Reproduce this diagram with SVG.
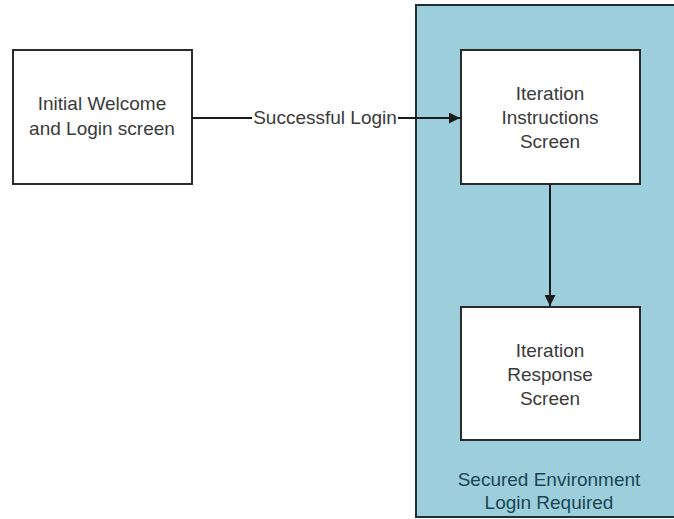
<svg xmlns="http://www.w3.org/2000/svg" width="674" height="519" viewBox="0 0 674 519">
  <defs>
    <marker id="arrow" viewBox="0 0 10 10" refX="10" refY="5" markerWidth="11" markerHeight="11" markerUnits="userSpaceOnUse" orient="auto">
      <path d="M0,0 L10,5 L0,10 Z" fill="#1a1a1a"/>
    </marker>
    <style>
      .box { fill: #ffffff; stroke: #2b2b2b; stroke-width: 2; }
      .zone { fill: #9ccfdb; stroke: #1f2f36; stroke-width: 2; }
      .lbl { font-family: "Liberation Sans", Arial, sans-serif; font-size: 19px; fill: #3a3a3a; text-anchor: middle; }
      .zlbl { font-family: "Liberation Sans", Arial, sans-serif; font-size: 19px; fill: #1c4554; text-anchor: middle; }
      .edge { fill: none; stroke: #1a1a1a; stroke-width: 2; }
      .elbl { font-family: "Liberation Sans", Arial, sans-serif; font-size: 19px; fill: #3a3a3a; text-anchor: middle; }
    </style>
  </defs>
  <rect width="674" height="519" fill="#ffffff"/>

  <!-- secured area -->
  <g id="secured-zone">
    <rect class="zone" x="416" y="5" width="270" height="512"/>
    <text class="zlbl" x="549" y="486">Secured Environment</text>
    <text class="zlbl" x="549" y="509">Login Required</text>
  </g>

  <g id="welcome">
    <rect class="box" x="13" y="50" width="179" height="134"/>
    <text class="lbl" x="102" y="110">Initial Welcome</text>
    <text class="lbl" x="102" y="135">and Login screen</text>
  </g>

  <g id="instructions">
    <rect class="box" x="461" y="50" width="179" height="134"/>
    <text class="lbl" x="550" y="100">Iteration</text>
    <text class="lbl" x="550" y="124">Instructions</text>
    <text class="lbl" x="550" y="148">Screen</text>
  </g>

  <g id="response">
    <rect class="box" x="461" y="307" width="179" height="133"/>
    <text class="lbl" x="550" y="357">Iteration</text>
    <text class="lbl" x="550" y="381">Response</text>
    <text class="lbl" x="550" y="405">Screen</text>
  </g>

  <g id="connectors">
    <path class="edge" d="M192,118 L252,118"/>
    <path class="edge" d="M398,118 L460,118" marker-end="url(#arrow)"/>
    <text class="elbl" x="325" y="124">Successful Login</text>
    <path class="edge" d="M550,184 L550,306" marker-end="url(#arrow)"/>
  </g>
</svg>
